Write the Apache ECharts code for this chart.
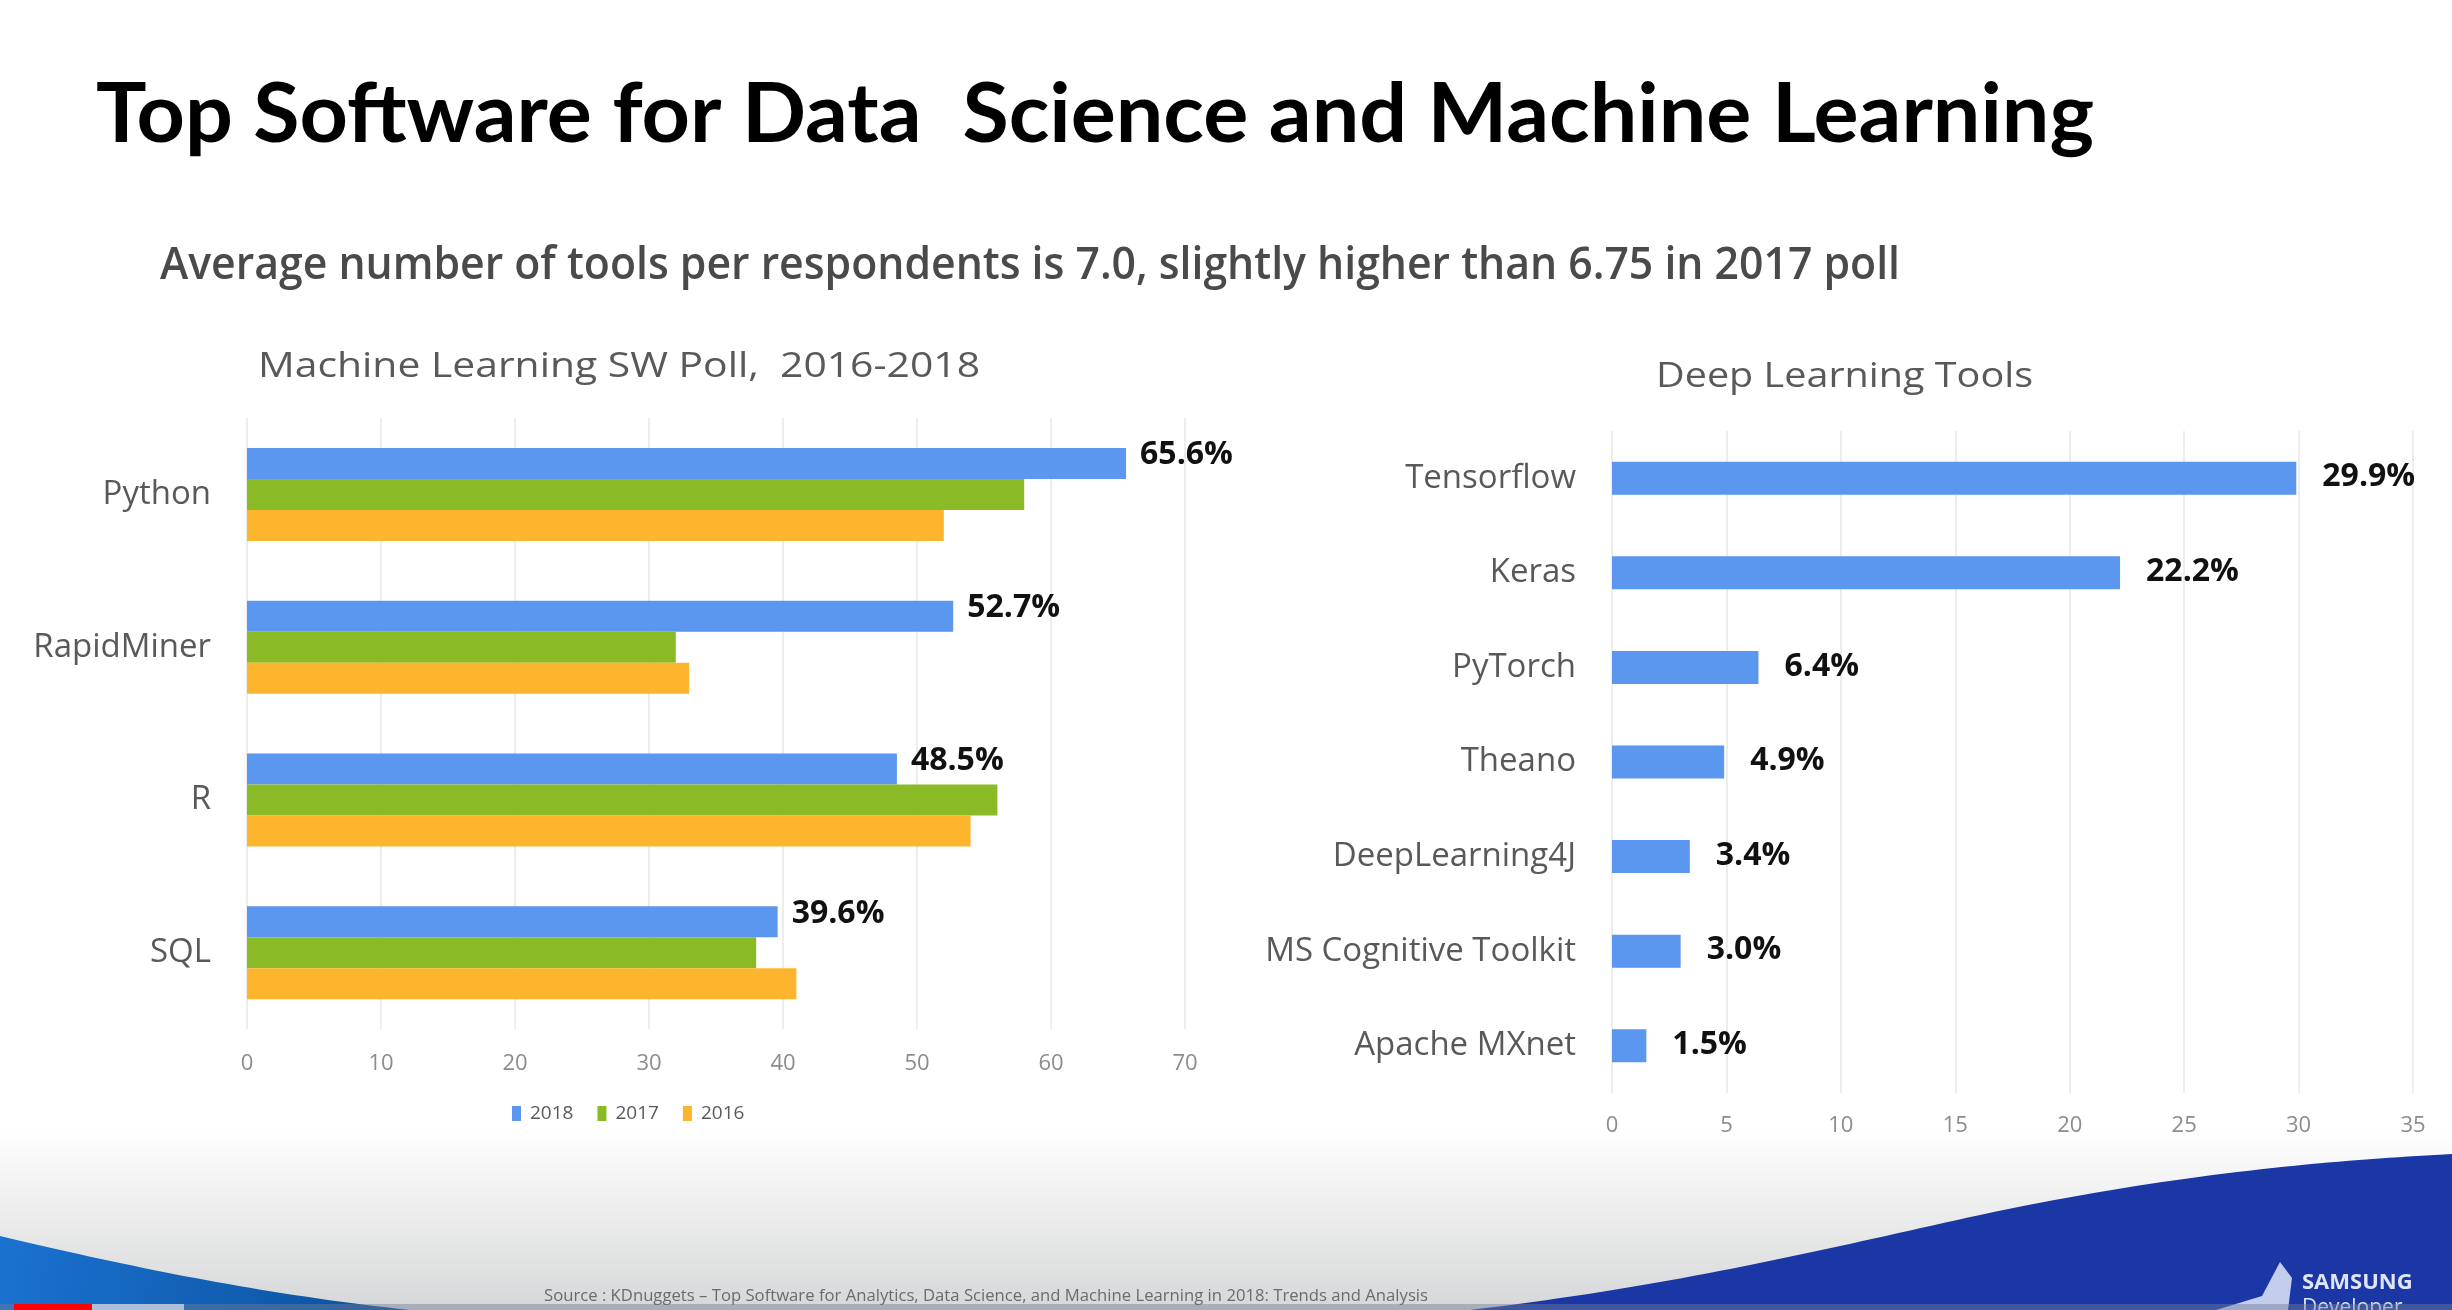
<!DOCTYPE html>
<html>
<head>
<meta charset="utf-8">
<script src="https://cdn.jsdelivr.net/npm/echarts@6/dist/echarts.min.js"></script>
<style>
html,body{margin:0;padding:0;background:#fff;}
#c{width:2452px;height:1310px;}
</style>
</head>
<body>
<div id="c"></div>
<script>
// ---- data ----
const mainTitle = 'Top Software for Data  Science and Machine Learning';
const subTitle = 'Average number of tools per respondents is 7.0, slightly higher than 6.75 in 2017 poll';
const mlTitle = 'Machine Learning SW Poll,  2016-2018';
const dlTitle = 'Deep Learning Tools';
const sourceText = 'Source : KDnuggets \u2013 Top Software for Analytics, Data Science, and Machine Learning in 2018: Trends and Analysis';

const mlCategories = ['Python', 'RapidMiner', 'R', 'SQL'];
const mlYears = ['2018', '2017', '2016'];
const ml2018 = [65.6, 52.7, 48.5, 39.6];
const ml2017 = [58, 32, 56, 38];
const ml2016 = [52, 33, 54, 41];

const dlCategories = ['Tensorflow', 'Keras', 'PyTorch', 'Theano', 'DeepLearning4J', 'MS Cognitive Toolkit', 'Apache MXnet'];
const dlValues = [29.9, 22.2, 6.4, 4.9, 3.4, 3.0, 1.5];

const mlTicks = { min: 0, max: 70, interval: 10 };
const dlTicks = { min: 0, max: 35, interval: 5 };

// ---- helpers ----
const cv = document.createElement('canvas').getContext('2d');
function measure(text, font) { cv.font = font; return cv.measureText(text).width; }
function fittedText(text, family, weight, size, x, y, targetWidth, color, extra) {
  const w = measure(text, weight + ' ' + size + 'px ' + family);
  return Object.assign({
    type: 'text', x: x, y: y, scaleX: targetWidth / w, scaleY: 1,
    style: { text: text, fontFamily: family, fontWeight: weight, fontSize: size, fill: color,
             verticalAlign: 'middle', align: 'left' }
  }, extra || {});
}
// sample a cubic bezier into points (decoration only)
function cubic(p0, p1, p2, p3, n) {
  const pts = [];
  for (let i = 0; i <= n; i++) {
    const t = i / n, u = 1 - t;
    pts.push([
      u*u*u*p0[0] + 3*u*u*t*p1[0] + 3*u*t*t*p2[0] + t*t*t*p3[0],
      u*u*u*p0[1] + 3*u*u*t*p1[1] + 3*u*t*t*p2[1] + t*t*t*p3[1]
    ]);
  }
  return pts;
}
const leftWave = cubic([0,1236],[110,1262],[250,1293],[410,1310],40).concat([[0,1310]]);
const rightWave = cubic([1470,1310],[1680,1285],[1820,1250],[1980,1215],40)
  .concat(cubic([1980,1215],[2180,1172],[2340,1160],[2452,1154],40))
  .concat([[2452,1310]]);

const BLUE = '#5b96ef', GREEN = '#8abb26', ORANGE = '#fdb52e';
const pct = p => Number(p.value).toFixed(1) + '%';

const chart = echarts.init(document.getElementById('c'), null, { renderer: 'canvas' });

const option = {
  backgroundColor: '#ffffff',
  animation: false,
  textStyle: { fontFamily: 'Open Sans' },
  graphic: [
    { type: 'rect', z: -20, shape: { x: 0, y: 1130, width: 2452, height: 180 },
      style: { fill: new echarts.graphic.LinearGradient(0, 0, 0, 1, [
        { offset: 0, color: '#ffffff' }, { offset: 1, color: '#d6d7d8' }]) } },
    { type: 'polygon', z: -10, shape: { points: leftWave },
      style: { fill: new echarts.graphic.LinearGradient(0, 0, 1, 1, [
        { offset: 0, color: '#1a72d0' }, { offset: 1, color: '#0b4f9c' }]) } },
    { type: 'polygon', z: -10, shape: { points: rightWave }, style: { fill: '#1b37a6' } },
    { type: 'polygon', z: -5, shape: { points: [[2280, 1262], [2292, 1278], [2288, 1310], [2216, 1310], [2262, 1296]] },
      style: { fill: 'rgba(225,232,248,0.85)' } },
    { type: 'text', z: -5, x: 2302, y: 1283, style: { text: 'SAMSUNG', fontFamily: 'Open Sans', fontWeight: 'bold', fontSize: 22, fill: '#dfe5f6', verticalAlign: 'middle' } },
    { type: 'text', z: -5, x: 2302, y: 1308, style: { text: 'Developer', fontFamily: 'Open Sans', fontSize: 21, fill: '#dfe5f6', verticalAlign: 'middle' } },
    { type: 'rect', z: -4, shape: { x: 0, y: 1304, width: 2452, height: 6 }, style: { fill: 'rgba(110,125,150,0.45)' } },
    { type: 'rect', z: -3, shape: { x: 92, y: 1304, width: 92, height: 6 }, style: { fill: 'rgba(200,210,228,0.8)' } },
    { type: 'rect', z: -3, shape: { x: 14, y: 1304, width: 78, height: 6 }, style: { fill: '#ff0000' } },
    fittedText(mainTitle, 'Lato', 'bold', 82, 96, 116, 1998, '#000000'),
    fittedText(subTitle, 'Open Sans', 600, 46, 160, 266, 1740, '#4a4a4a'),
    fittedText(mlTitle, 'Open Sans', 'normal', 35, 258, 367, 722, '#595959'),
    fittedText(dlTitle, 'Open Sans', 'normal', 35, 1656, 377, 377, '#595959'),
    fittedText(sourceText, 'Open Sans', 'normal', 17, 544, 1296, 884, '#6b6b6b', { z: -2 })
  ],
  legend: {
    data: mlYears,
    left: 507, top: 1099,
    icon: 'rect', itemWidth: 9, itemHeight: 15, itemGap: 24,
    textStyle: { fontSize: 19, color: '#595959', padding: [0, 0, 0, 4] }
  },
  grid: [
    { left: 247, right: 1267, top: 418, bottom: 281 },
    { left: 1612, right: 39, top: 431, bottom: 217 }
  ],
  xAxis: [
    { type: 'value', gridIndex: 0, min: mlTicks.min, max: mlTicks.max, interval: mlTicks.interval,
      axisLine: { show: false }, axisTick: { show: false },
      axisLabel: { color: '#8c8c8c', fontSize: 22, margin: 24 },
      splitLine: { lineStyle: { color: '#e7e7e7', width: 1.5 } } },
    { type: 'value', gridIndex: 1, min: dlTicks.min, max: dlTicks.max, interval: dlTicks.interval,
      axisLine: { show: false }, axisTick: { show: false },
      axisLabel: { color: '#8c8c8c', fontSize: 22, margin: 22 },
      splitLine: { lineStyle: { color: '#e7e7e7', width: 1.5 } } }
  ],
  yAxis: [
    { type: 'category', gridIndex: 0, data: mlCategories, inverse: true,
      axisLine: { show: false }, axisTick: { show: false },
      axisLabel: { color: '#595959', fontSize: 33, margin: 36 } },
    { type: 'category', gridIndex: 1, data: dlCategories, inverse: true,
      axisLine: { show: false }, axisTick: { show: false },
      axisLabel: { color: '#595959', fontSize: 33, margin: 36 } }
  ],
  series: [
    { name: mlYears[0], type: 'bar', xAxisIndex: 0, yAxisIndex: 0, data: ml2018, barWidth: 31, barGap: '0%',
      itemStyle: { color: BLUE },
      label: { show: true, position: 'right', distance: 14, offset: [0, -8], formatter: pct,
               color: '#111', fontSize: 32, fontWeight: 'bold' } },
    { name: mlYears[1], type: 'bar', xAxisIndex: 0, yAxisIndex: 0, data: ml2017, barWidth: 31, barGap: '0%',
      itemStyle: { color: GREEN } },
    { name: mlYears[2], type: 'bar', xAxisIndex: 0, yAxisIndex: 0, data: ml2016, barWidth: 31, barGap: '0%',
      itemStyle: { color: ORANGE } },
    { name: 'Deep Learning Tools', type: 'bar', xAxisIndex: 1, yAxisIndex: 1, data: dlValues, barWidth: 33,
      itemStyle: { color: BLUE },
      label: { show: true, position: 'right', distance: 26, offset: [0, -1], formatter: pct,
               color: '#111', fontSize: 32, fontWeight: 'bold' } }
  ]
};
chart.setOption(option);
</script>
</body>
</html>
